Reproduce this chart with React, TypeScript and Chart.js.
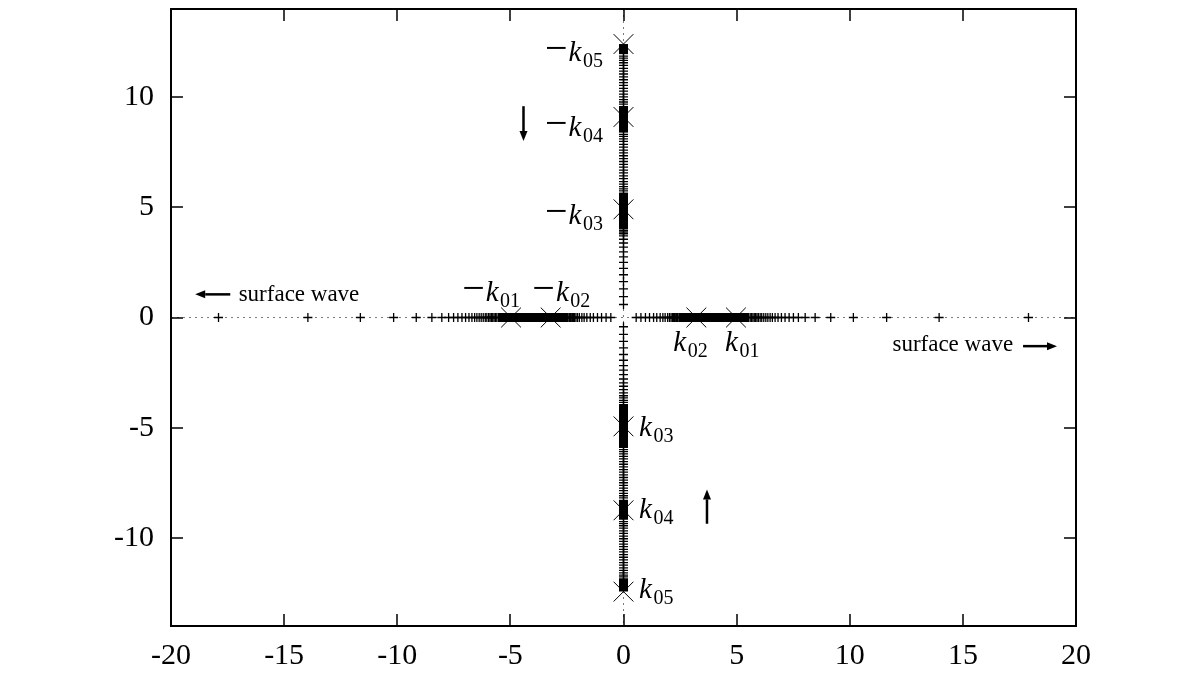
import { useEffect, useRef } from 'react';
import { Chart, registerables } from 'chart.js';

Chart.register(...registerables);

// ---- axis ticks ----
const xTicks = [-20, -15, -10, -5, 0, 5, 10, 15, 20];
const yTicks = [-10, -5, 0, 5, 10];

// ---- real axis (y = 0) "+" markers ----
const realRightPlus = [
  0.56, 0.77, 0.97, 1.15, 1.33, 1.47, 1.62, 1.74, 1.84, 1.95, 2.03, 2.1, 2.16, 2.21, 2.26, 2.31, 2.35, 2.39,
  5.6, 5.66, 5.72, 5.78, 5.84, 5.9, 5.96, 6.04, 6.11, 6.2, 6.29, 6.38, 6.48, 6.58, 6.7, 6.83, 6.98, 7.14,
  7.32, 7.51, 7.73, 8.03, 8.47, 9.16, 10.16, 11.63, 13.95, 17.9,
];
const realLeftPlus = [
  -0.56, -0.77, -0.97, -1.15, -1.33, -1.47, -1.62, -1.74, -1.84, -1.95, -2.03, -2.1, -2.16, -2.21, -2.26, -2.31, -2.35, -2.39,
  -5.6, -5.66, -5.72, -5.78, -5.84, -5.9, -5.96, -6.04, -6.11, -6.2, -6.29, -6.38, -6.48, -6.58, -6.7, -6.83, -6.98, -7.14,
  -7.32, -7.51, -7.73, -8.03, -8.47, -9.16, -10.16, -11.63, -13.95, -17.9,
];
// dense (solid) stretches of markers on the real axis
const realBands = [
  [2.42, 5.56],
  [-5.56, -2.42],
];
// branch points k01, k02 on the real axis ("x" markers)
const realCrossX = [-4.97, -3.22, 3.22, 4.97];

// ---- imaginary axis (x = 0) "+" markers ----
const imagUpperPlus = [
  0.59, 0.95, 1.3, 1.63, 1.94, 2.23, 2.5, 2.75, 2.98, 3.19, 3.38, 3.55, 3.7, 3.8, 3.88, 3.95,
  5.75, 5.84, 5.94, 6.05, 6.17, 6.3, 6.43, 6.56, 6.69, 6.82, 6.95, 7.08, 7.21, 7.34, 7.47, 7.6, 7.73, 7.86, 7.99, 8.11, 8.22, 8.31,
  9.68, 9.78, 9.89, 10.01, 10.14, 10.27, 10.4, 10.53, 10.66, 10.79, 10.92, 11.05, 11.18, 11.31, 11.44, 11.56, 11.67, 11.77, 11.86,
];
const imagLowerPlus = [
  -0.42, -0.77, -1.08, -1.38, -1.68, -1.94, -2.18, -2.39, -2.59, -2.79, -2.97, -3.12, -3.27, -3.42, -3.55, -3.65, -3.76, -3.85,
  -6.0, -6.09, -6.19, -6.3, -6.42, -6.54, -6.66, -6.78, -6.9, -7.02, -7.14, -7.26, -7.38, -7.5, -7.62, -7.74, -7.86, -7.98, -8.09, -8.19,
  -9.26, -9.35, -9.45, -9.56, -9.68, -9.8, -9.92, -10.04, -10.16, -10.28, -10.4, -10.52, -10.64, -10.76, -10.88, -11.0, -11.12,
  -11.24, -11.36, -11.48, -11.59, -11.69, -11.77,
];
const imagBands = [
  [4.0, 5.67],
  [8.39, 9.6],
  [11.95, 12.41],
  [-3.93, -5.92],
  [-8.27, -9.18],
  [-11.83, -12.44],
];
// k03, k04, k05 and their negatives on the imaginary axis
const imagCrossY = [12.41, 9.1, 4.91, -4.94, -8.75, -12.44];

// ---- annotations (anchored in data coordinates) ----
const kLabels = [
  { neg: true, sub: '05', x: -0.91, y: 11.64, align: 'right' },
  { neg: true, sub: '04', x: -0.91, y: 8.23, align: 'right' },
  { neg: true, sub: '03', x: -0.91, y: 4.23, align: 'right' },
  { neg: true, sub: '01', x: -7.13, y: 0.74, align: 'left' },
  { neg: true, sub: '02', x: -4.03, y: 0.74, align: 'left' },
  { neg: false, sub: '02', x: 2.2, y: -1.53, align: 'left' },
  { neg: false, sub: '01', x: 4.49, y: -1.53, align: 'left' },
  { neg: false, sub: '03', x: 0.69, y: -5.4, align: 'left' },
  { neg: false, sub: '04', x: 0.69, y: -9.09, align: 'left' },
  { neg: false, sub: '05', x: 0.69, y: -12.73, align: 'left' },
];
const textLabels = [
  { text: 'surface wave', x: -17.01, y: 0.77, align: 'left' },
  { text: 'surface wave', x: 17.22, y: -1.53, align: 'right' },
];
// arrows: from (x1,y1) to tip (x2,y2)
const arrows = [
  { x1: -4.42, y1: 9.59, x2: -4.42, y2: 8.01 },
  { x1: 3.69, y1: -9.36, x2: 3.69, y2: -7.8 },
  { x1: -17.38, y1: 1.05, x2: -18.93, y2: 1.05 },
  { x1: 17.66, y1: -1.3, x2: 19.16, y2: -1.3 },
];

const SERIF = '"Liberation Serif", "Times New Roman", serif';

const overlayPlugin = {
  id: 'overlay',
  afterDatasetsDraw(chart: any) {
    const { ctx, chartArea: a, scales } = chart;
    const sx = scales.x;
    const sy = scales.y;
    ctx.save();
    ctx.strokeStyle = '#000';
    ctx.fillStyle = '#000';
    ctx.lineCap = 'butt';

    // inward ticks on all four sides
    ctx.lineWidth = 1.5;
    const TL = 12;
    ctx.beginPath();
    sx.ticks.forEach((t: any) => {
      const px = Math.round(sx.getPixelForValue(t.value));
      ctx.moveTo(px, a.bottom);
      ctx.lineTo(px, a.bottom - TL);
      ctx.moveTo(px, a.top);
      ctx.lineTo(px, a.top + TL);
    });
    sy.ticks.forEach((t: any) => {
      const py = Math.round(sy.getPixelForValue(t.value));
      ctx.moveTo(a.left, py);
      ctx.lineTo(a.left + TL, py);
      ctx.moveTo(a.right, py);
      ctx.lineTo(a.right - TL, py);
    });
    ctx.stroke();

    // frame
    ctx.lineWidth = 2;
    ctx.strokeRect(a.left, a.top, a.right - a.left, a.bottom - a.top);

    // k labels
    const mainFont = 'italic 29px ' + SERIF;
    const minusFont = '40px ' + SERIF;
    const subFont = '20px ' + SERIF;
    ctx.textBaseline = 'alphabetic';
    ctx.textAlign = 'left';
    kLabels.forEach((l) => {
      const px = sx.getPixelForValue(l.x);
      const py = sy.getPixelForValue(l.y);
      ctx.font = minusFont;
      const mW = l.neg ? ctx.measureText('\u2212').width + 1 : 0;
      ctx.font = mainFont;
      const kW = ctx.measureText('k').width + 1.5;
      ctx.font = subFont;
      const sW = ctx.measureText(l.sub).width;
      const total = mW + kW + sW;
      const x0 = l.align === 'right' ? px - total : px;
      if (l.neg) {
        ctx.font = minusFont;
        ctx.fillText('\u2212', x0, py);
      }
      ctx.font = mainFont;
      ctx.fillText('k', x0 + mW, py);
      ctx.font = subFont;
      ctx.fillText(l.sub, x0 + mW + kW, py + 6);
    });

    // plain text labels
    ctx.font = '23px ' + SERIF;
    textLabels.forEach((l) => {
      ctx.textAlign = l.align as CanvasTextAlign;
      ctx.fillText(l.text, sx.getPixelForValue(l.x), sy.getPixelForValue(l.y));
    });

    // arrows
    arrows.forEach((ar) => {
      const x1 = sx.getPixelForValue(ar.x1);
      const y1 = sy.getPixelForValue(ar.y1);
      const x2 = sx.getPixelForValue(ar.x2);
      const y2 = sy.getPixelForValue(ar.y2);
      const ang = Math.atan2(y2 - y1, x2 - x1);
      const HL = 10;
      const HW = 4;
      const bx = x2 - Math.cos(ang) * HL;
      const by = y2 - Math.sin(ang) * HL;
      ctx.lineWidth = 2.5;
      ctx.beginPath();
      ctx.moveTo(x1, y1);
      ctx.lineTo(bx, by);
      ctx.stroke();
      ctx.beginPath();
      ctx.moveTo(x2, y2);
      ctx.lineTo(bx - Math.sin(ang) * HW, by + Math.cos(ang) * HW);
      ctx.lineTo(bx + Math.sin(ang) * HW, by - Math.cos(ang) * HW);
      ctx.closePath();
      ctx.fill();
    });

    ctx.restore();
  },
};

export default function App() {
  const canvasRef = useRef<HTMLCanvasElement | null>(null);

  useEffect(() => {
    document.body.style.margin = '0';
    const canvas = canvasRef.current;
    if (!canvas) return;

    const plusStyle = {
      type: 'scatter' as const,
      showLine: false,
      pointStyle: 'cross' as const,
      pointRadius: 4.5,
      pointBorderWidth: 1.3,
      borderColor: '#000',
      backgroundColor: '#000',
    };
    const bandStyle = {
      type: 'scatter' as const,
      showLine: true,
      pointRadius: 0,
      borderWidth: 9,
      borderColor: '#000',
      backgroundColor: '#000',
    };

    const datasets: any[] = [
      { ...plusStyle, data: realRightPlus.map((v) => ({ x: v, y: 0 })) },
      { ...plusStyle, data: realLeftPlus.map((v) => ({ x: v, y: 0 })) },
      { ...plusStyle, data: imagUpperPlus.map((v) => ({ x: 0, y: v })) },
      { ...plusStyle, data: imagLowerPlus.map((v) => ({ x: 0, y: v })) },
      ...realBands.map((b) => ({ ...bandStyle, data: b.map((v) => ({ x: v, y: 0 })) })),
      ...imagBands.map((b) => ({ ...bandStyle, data: b.map((v) => ({ x: 0, y: v })) })),
      {
        type: 'scatter',
        showLine: false,
        pointStyle: 'crossRot',
        pointRadius: 14,
        pointBorderWidth: 1,
        borderColor: '#000',
        data: realCrossX.map((v) => ({ x: v, y: 0 })),
      },
      {
        type: 'scatter',
        showLine: false,
        pointStyle: 'crossRot',
        pointRadius: 14,
        pointBorderWidth: 1,
        borderColor: '#000',
        data: imagCrossY.map((v) => ({ x: 0, y: v })),
      },
    ];

    const zeroColor = (c: any) =>
      c.tick && c.tick.value === 0 ? '#7a7a7a' : 'rgba(0,0,0,0)';

    const chart = new Chart(canvas, {
      type: 'scatter',
      data: { datasets },
      plugins: [overlayPlugin],
      options: {
        responsive: false,
        animation: false,
        events: [],
        layout: { autoPadding: false, padding: { top: 9, right: 124, left: 0, bottom: 0 } },
        plugins: { legend: { display: false }, tooltip: { enabled: false } },
        scales: {
          x: {
            type: 'linear',
            min: -20,
            max: 20,
            afterBuildTicks: (axis: any) => {
              axis.ticks = xTicks.map((v) => ({ value: v }));
            },
            afterFit: (s: any) => {
              s.height = 49;
              s.paddingLeft = 0;
              s.paddingRight = 0;
            },
            grid: { color: zeroColor, lineWidth: 1, drawTicks: false },
            border: { display: false, dash: [2, 4] },
            ticks: {
              autoSkip: false,
              maxRotation: 0,
              padding: 12,
              color: '#000',
              font: { family: SERIF, size: 30 },
              callback: (v: any) => String(v),
            },
          },
          y: {
            type: 'linear',
            min: -14,
            max: 14,
            afterBuildTicks: (axis: any) => {
              axis.ticks = yTicks.map((v) => ({ value: v }));
            },
            afterFit: (s: any) => {
              s.width = 171;
              s.paddingTop = 0;
              s.paddingBottom = 0;
            },
            grid: { color: zeroColor, lineWidth: 1, drawTicks: false },
            border: { display: false, dash: [2, 4] },
            ticks: {
              autoSkip: false,
              padding: 17,
              color: '#000',
              font: { family: SERIF, size: 30 },
              callback: (v: any) => String(v),
            },
          },
        },
      },
    });

    return () => chart.destroy();
  }, []);

  return (
    <div style={{ position: 'absolute', left: 0, top: 0, width: 1200, height: 675, background: '#fff' }}>
      <canvas ref={canvasRef} width={1200} height={675} style={{ display: 'block' }} />
    </div>
  );
}
